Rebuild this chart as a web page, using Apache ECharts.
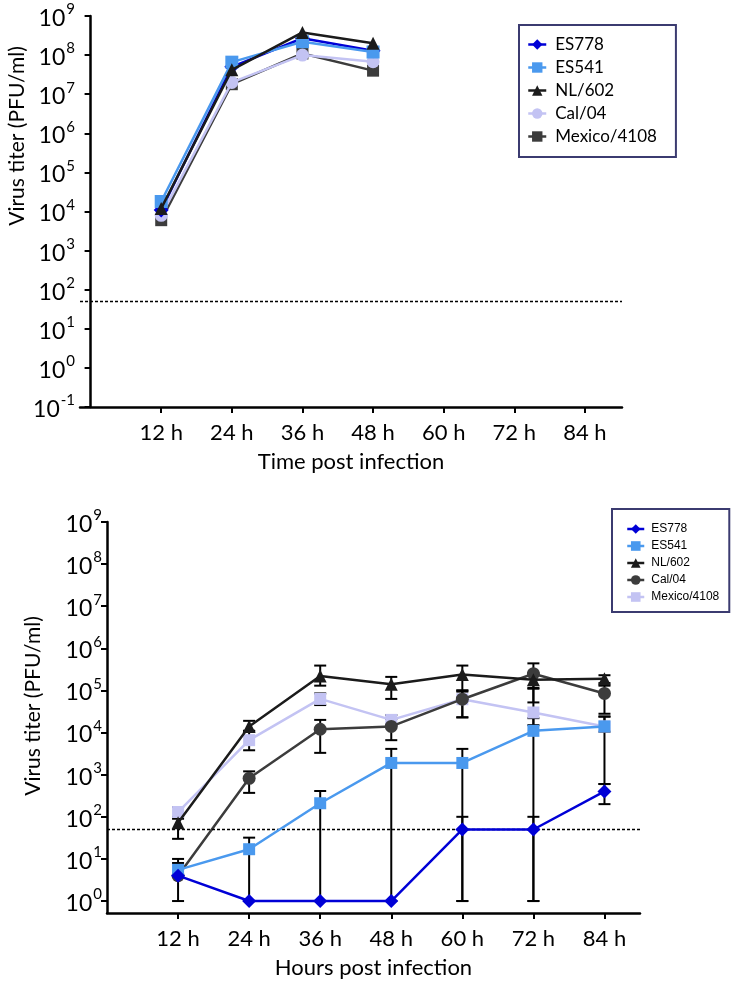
<!DOCTYPE html>
<html><head><meta charset="utf-8">
<script src="https://cdn.jsdelivr.net/npm/echarts@6/dist/echarts.min.js"></script>
<style>html,body{margin:0;padding:0;background:#fff}#c{width:742px;height:987px}</style>
</head><body><div id="c"></div>
<script>
// ---------- data ----------
const seriesNames = ['ES778', 'ES541', 'NL/602', 'Cal/04', 'Mexico/4108'];
const xTickHours = [12, 24, 36, 48, 60, 72, 84];
const yTicksTop = [0.1, 1, 10, 100, 1e3, 1e4, 1e5, 1e6, 1e7, 1e8, 1e9];
const yTicksBottom = [1, 10, 100, 1e3, 1e4, 1e5, 1e6, 1e7, 1e8, 1e9];
const detectionLimit = 50;

const hoursTop = [12, 24, 36, 48];
const es778Top = [1.1e4, 5.0e7, 2.7e8, 1.3e8];
const es541Top = [1.8e4, 6.6e7, 2.2e8, 1.2e8];
const nl602Top = [1.2e4, 4.2e7, 3.8e8, 2.0e8];
const cal04Top = [8.0e3, 2.0e7, 1.0e8, 6.8e7];
const mexicoTop = [6.0e3, 1.8e7, 1.1e8, 4.0e7];

const hoursBottom = [12, 24, 36, 48, 60, 72, 84];
const es778Bottom = [4, 1, 1, 1, 50, 50, 400];
const es778Low  = [null, null, null, null, 1, 1, 200];
const es778High = [null, null, null, null, 100, 100, 600];
const es541Bottom = [5.5, 17, 210, 1900, 1900, 11000, 14000];
const es541Low  = [4, 1, 1, 1, 1, 1, 600];
const es541High = [8, 32, 410, 4100, 4100, 22000, 24000];
const nl602Bottom = [72, 14000, 220000, 140000, 240000, 180000, 190000];
const nl602Low  = [30, 11000, 130000, 63000, 100000, 52000, 150000];
const nl602High = [90, 19000, 390000, 210000, 390000, 260000, 230000];
const cal04Bottom = [4, 820, 12000, 14000, 62000, 250000, 85000];
const cal04Low  = [1, 370, 3300, 6600, 23000, 115000, 28000];
const cal04High = [10, 1200, 20000, 21000, 94000, 440000, 130000];
const mexicoBottom = [130, 6600, 63000, 20000, 62000, 30000, 14000];
const mexicoLow  = [100, 3800, 45000, 15000, 23000, 15000, 10500];
const mexicoHigh = [170, 11000, 85000, 26000, 100000, 110000, 24000];

// ---------- styles ----------
const FONT = 'Lato';
const C_ES778 = '#0000d6';
const C_ES541 = '#4a99ee';
const C_NL = '#1b1b1b';
const C_DARK = '#3c3c3c';
const C_LAV = '#c3c3f3';

const topStyles = [
  {color: C_ES778, symbol: 'diamond', size: 15},
  {color: C_ES541, symbol: 'rect', size: 13},
  {color: C_NL, symbol: 'triangle', size: 13},
  {color: C_LAV, symbol: 'circle', size: 13},
  {color: C_DARK, symbol: 'rect', size: 12}
];
const bottomStyles = [
  {color: C_ES778, symbol: 'diamond', size: 14},
  {color: C_ES541, symbol: 'rect', size: 12},
  {color: C_NL, symbol: 'triangle', size: 13},
  {color: C_DARK, symbol: 'circle', size: 13},
  {color: C_LAV, symbol: 'rect', size: 12}
];

function zip(xs, ys) { return xs.map((x, i) => [x, ys[i]]); }
function powLabel(v) {
  const e = Math.round(Math.log10(v));
  return '{b|10}{s|' + e + '}';
}
const richLabel = {
  b: {fontSize: 23, fontFamily: FONT, color: '#000', lineHeight: 28, verticalAlign: 'bottom'},
  s: {fontSize: 15, fontFamily: FONT, color: '#000', lineHeight: 28, verticalAlign: 'top', padding: [0, 0, 0, 1]}
};

function xAxisCfg(gridIndex, min, max, name) {
  return {
    type: 'value', gridIndex, min, max,
    name, nameLocation: 'middle', nameGap: 44,
    nameTextStyle: {fontSize: 22, fontFamily: FONT, color: '#000'},
    axisLine: {lineStyle: {color: '#000', width: 2.5}},
    axisTick: {show: true, length: 6, lineStyle: {width: 2, color: '#000'}, customValues: xTickHours},
    axisLabel: {customValues: xTickHours, formatter: '{value} h', fontSize: 22, fontFamily: FONT, color: '#000', margin: 15},
    splitLine: {show: false}
  };
}
function yAxisCfg(gridIndex, min, ticks) {
  return {
    type: 'log', logBase: 10, gridIndex, min, max: 1e9,
    axisLine: {show: true, lineStyle: {color: '#000', width: 2.5}},
    axisTick: {show: true, length: 6, lineStyle: {width: 2, color: '#000'}, customValues: ticks},
    axisLabel: {customValues: ticks, formatter: powLabel, rich: richLabel, margin: 5},
    splitLine: {show: false},
    minorTick: {show: false}
  };
}

const dottedLine = {
  silent: true, symbol: 'none', label: {show: false},
  lineStyle: {type: [3, 2], color: '#000', width: 1.3},
  data: [{yAxis: detectionLimit}]
};

const topData = [es778Top, es541Top, nl602Top, cal04Top, mexicoTop];
const bottomData = [es778Bottom, es541Bottom, nl602Bottom, cal04Bottom, mexicoBottom];
const bottomLow = [es778Low, es541Low, nl602Low, cal04Low, mexicoLow];
const bottomHigh = [es778High, es541High, nl602High, cal04High, mexicoHigh];

const series = [];
const topOrder = [4, 3, 0, 1, 2];
topOrder.forEach((i, k) => {
  const st = topStyles[i];
  series.push({
    type: 'line', name: seriesNames[i], xAxisIndex: 0, yAxisIndex: 0,
    data: zip(hoursTop, topData[i]),
    symbol: st.symbol, symbolSize: st.size,
    itemStyle: {color: st.color}, lineStyle: {color: st.color, width: 2.5},
    z: 3 + k,
    markLine: k === 0 ? dottedLine : undefined
  });
});

// error bars (bottom chart)
const errData = [];
for (let s = 0; s < 5; s++) {
  hoursBottom.forEach((h, j) => {
    if (bottomLow[s][j] != null) errData.push([h, bottomLow[s][j], bottomHigh[s][j]]);
  });
}
series.push({
  type: 'custom', name: 'err', xAxisIndex: 1, yAxisIndex: 1, z: 2,
  data: errData, encode: {x: 0, y: [1, 2]},
  renderItem: function (params, api) {
    const x = api.value(0), lo = api.value(1), hi = api.value(2);
    const p1 = api.coord([x, lo]), p2 = api.coord([x, hi]);
    const w = 6;
    const style = {stroke: '#000', lineWidth: 2, fill: null};
    return {type: 'group', children: [
      {type: 'line', shape: {x1: p1[0], y1: p1[1], x2: p2[0], y2: p2[1]}, style},
      {type: 'line', shape: {x1: p1[0] - w, y1: p1[1], x2: p1[0] + w, y2: p1[1]}, style},
      {type: 'line', shape: {x1: p2[0] - w, y1: p2[1], x2: p2[0] + w, y2: p2[1]}, style}
    ]};
  }
});
const bottomOrder = [4, 3, 1, 2, 0];
bottomOrder.forEach((i, k) => {
  const st = bottomStyles[i];
  series.push({
    type: 'line', name: seriesNames[i], xAxisIndex: 1, yAxisIndex: 1,
    data: zip(hoursBottom, bottomData[i]),
    symbol: st.symbol, symbolSize: st.size,
    itemStyle: {color: st.color}, lineStyle: {color: st.color, width: 2.5},
    z: 3 + k,
    markLine: k === 0 ? dottedLine : undefined
  });
});

function legendItems(styles) {
  return seriesNames.map((n, i) => ({
    name: n,
    itemStyle: {color: styles[i].color},
    lineStyle: {color: styles[i].color, width: 2.5}
  }));
}

const option = {
  animation: false,
  backgroundColor: '#fff',
  grid: [
    {left: 80, width: 542, top: 16, height: 391},
    {left: 107, width: 533, top: 522, height: 391}
  ],
  xAxis: [
    xAxisCfg(0, -1.8, 90.3, 'Time post infection'),
    xAxisCfg(1, 0, 90, 'Hours post infection')
  ],
  yAxis: [
    yAxisCfg(0, 0.1, yTicksTop),
    yAxisCfg(1, 0.52, yTicksBottom)
  ],
  legend: [
    {
      orient: 'vertical', left: 519, top: 25,
      data: legendItems(topStyles),
      itemWidth: 18, itemHeight: 13, itemGap: 6,
      padding: [11, 19, 12, 8],
      borderColor: '#3b3b70', borderWidth: 2,
      textStyle: {fontSize: 17, fontFamily: FONT, color: '#000', padding: [0, 0, 0, 4]},
      selectedMode: false
    },
    {
      orient: 'vertical', left: 612, top: 509,
      data: legendItems(bottomStyles),
      itemWidth: 17, itemHeight: 12, itemGap: 5,
      padding: [14, 10, 9, 14],
      borderColor: '#3b3b70', borderWidth: 2,
      textStyle: {fontSize: 12, fontFamily: 'Liberation Sans', color: '#000', padding: [0, 0, 0, 2]},
      selectedMode: false
    }
  ],
  graphic: [
    {type: 'text', x: 17, y: 136, rotation: Math.PI / 2,
     style: {text: 'Virus titer (PFU/ml)', font: '21px ' + FONT, fill: '#000', align: 'center', verticalAlign: 'middle'}},
    {type: 'text', x: 33, y: 706, rotation: Math.PI / 2,
     style: {text: 'Virus titer (PFU/ml)', font: '21px ' + FONT, fill: '#000', align: 'center', verticalAlign: 'middle'}}
  ],
  series
};
const chart = echarts.init(document.getElementById('c'), null, {renderer: 'canvas'});
chart.setOption(option);
</script>
</body></html>
